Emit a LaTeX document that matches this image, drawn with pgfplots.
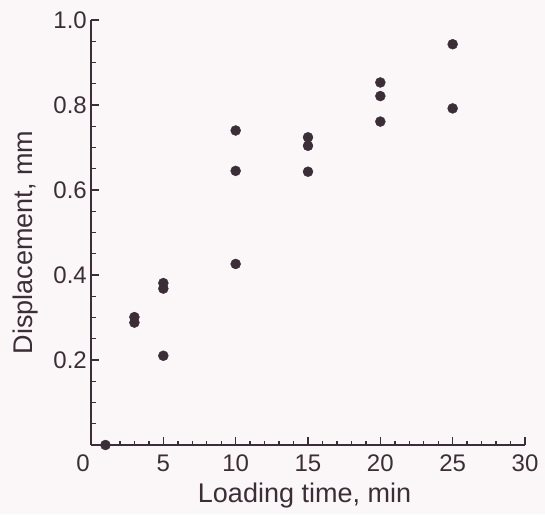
\documentclass[border=0pt]{standalone}
\usepackage{pgfplots}
\pgfplotsset{compat=1.18}
\usepackage{fontspec}
\setmainfont{Liberation Sans}
\definecolor{ink}{HTML}{3B2E36}
\definecolor{bg}{HTML}{FBF7F8}
\begin{document}
\begin{tikzpicture}
\path[use as bounding box, fill=bg] (-91pt,-69pt) rectangle (454pt,445pt);
\begin{axis}[
  at={(0pt,0pt)}, anchor=origin,
  scale only axis, width=434pt, height=425pt,
  xmin=0, xmax=30, ymin=0, ymax=1,
  axis lines*=left,
  axis line style={ink, line width=1.6pt},
  every major tick/.append style={ink, line width=1.4pt},
  every minor tick/.append style={ink, line width=1.4pt},
  tick align=inside,
  major tick length=8pt, minor tick length=4.5pt,
  xtick={5,10,15,20,25,30},
  extra x ticks={0},
  extra x tick style={xticklabel style={xshift=-8pt}, major tick length=0pt},
  minor xtick={1,2,3,4,6,7,8,9,11,12,13,14,16,17,18,19,21,22,23,24,26,27,28,29},
  ytick={0.2,0.4,0.6,0.8,1.0},
  minor ytick={0.05,0.1,0.15,0.25,0.3,0.35,0.45,0.5,0.55,0.65,0.7,0.75,0.85,0.9,0.95},
  /pgf/number format/assume math mode=true,
  yticklabel={\pgfmathprintnumber[fixed,fixed zerofill,precision=1]{\tick}},
  ticklabel style={font=\fontsize{24}{24}\selectfont, text=ink, inner sep=0pt},
  xticklabel style={anchor=north, yshift=-10pt},
  yticklabel style={anchor=east, xshift=-4pt},
  xlabel={Loading time, min},
  ylabel={Displacement, mm},
  label style={font=\fontsize{27}{27}\selectfont, text=ink, inner sep=0pt},
  xlabel style={at={(axis description cs:0.492,0)}, anchor=base, yshift=-57pt},
  ylabel style={at={(axis description cs:-0.152,0.476)}, anchor=center},
  clip=false,
]
\addplot[only marks, mark=*, mark size=5pt, mark options={fill=ink, draw=ink}] coordinates {
  (1,0)
  (3,0.301) (3,0.288)
  (5,0.381) (5,0.368) (5,0.21)
  (10,0.74) (10,0.645) (10,0.426)
  (15,0.724) (15,0.704) (15,0.643)
  (20,0.853) (20,0.821) (20,0.761)
  (25,0.943) (25,0.792)
};
\end{axis}
\end{tikzpicture}
\end{document}
